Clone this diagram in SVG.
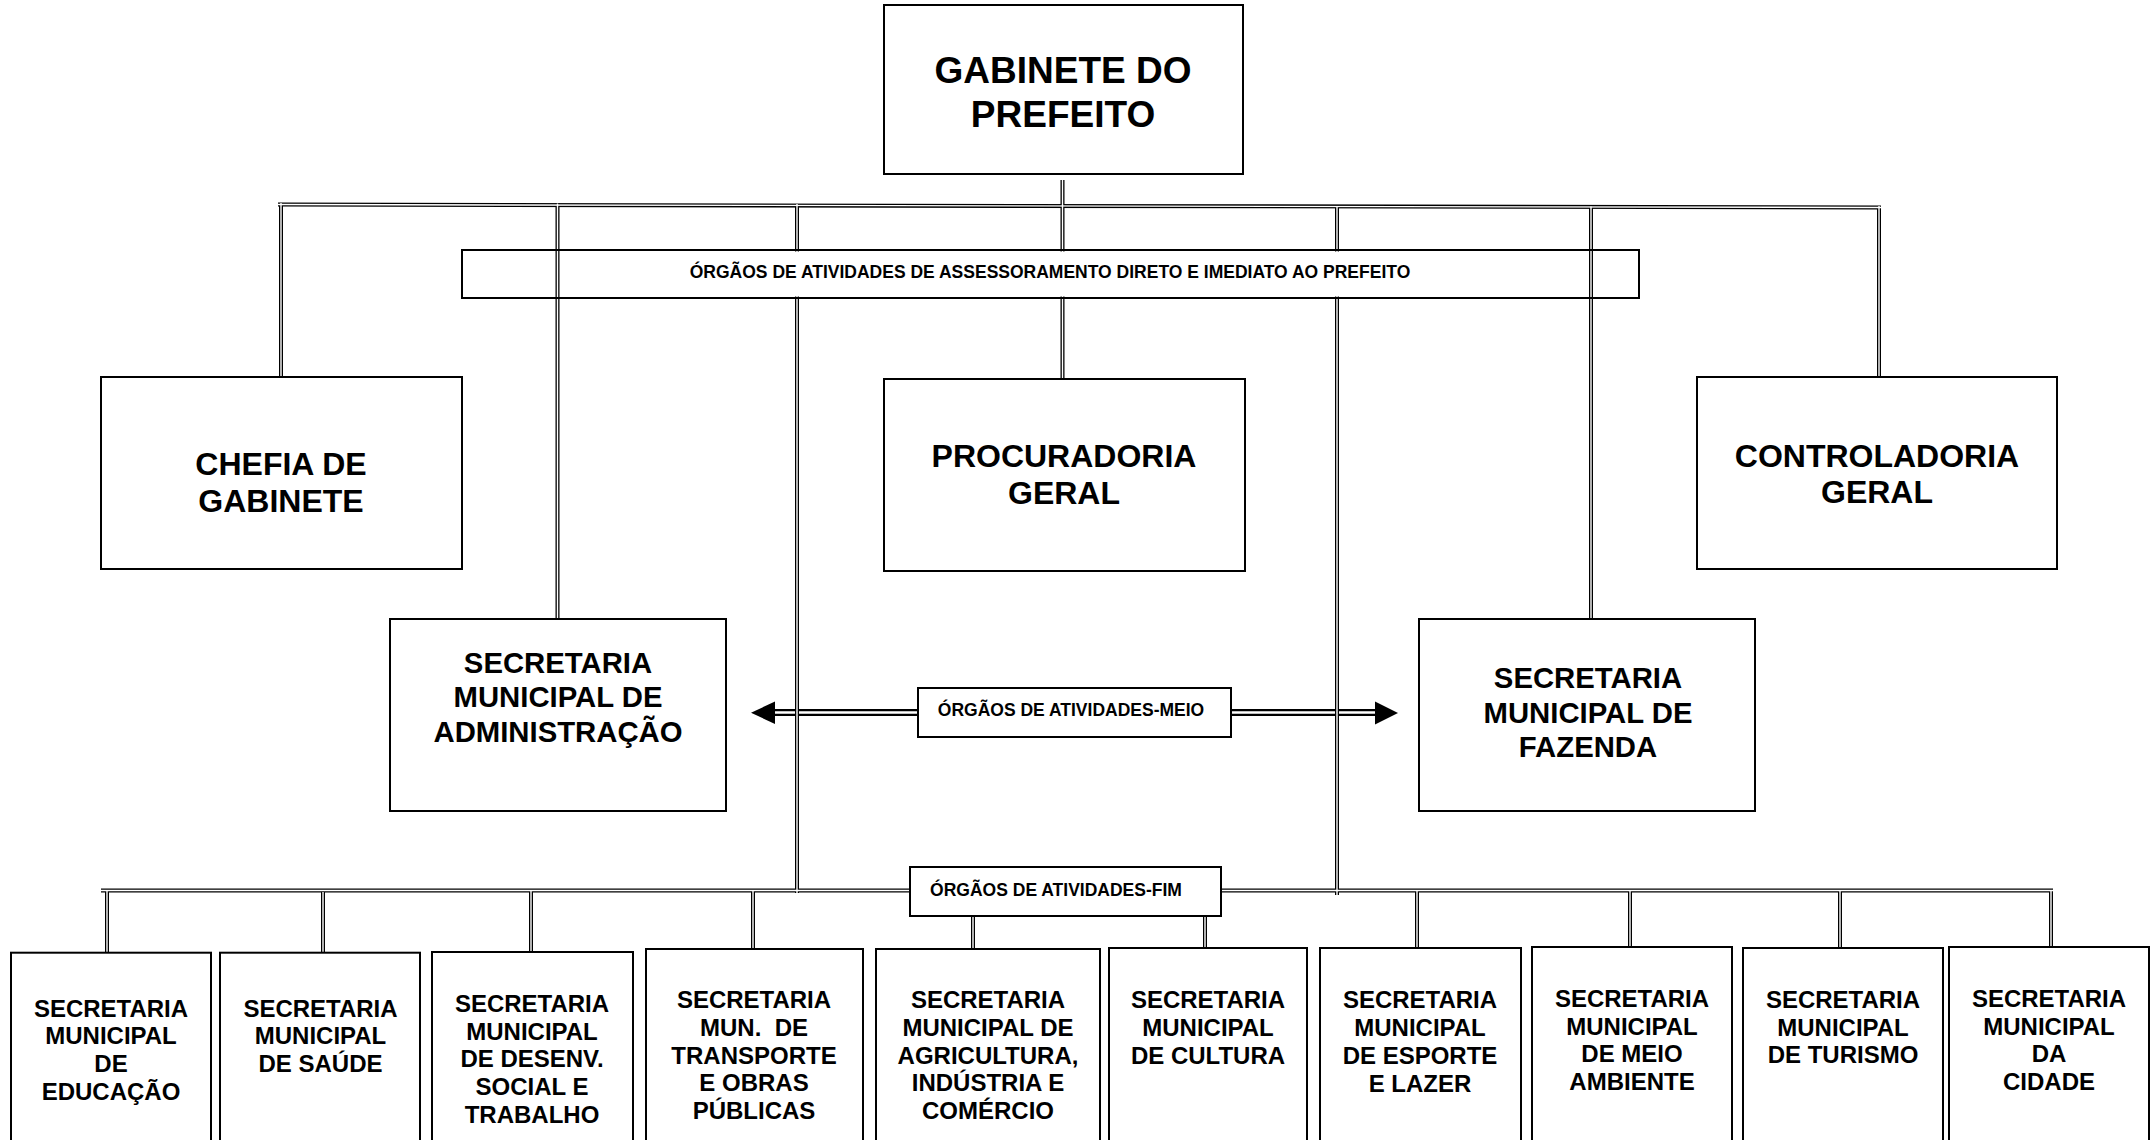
<svg xmlns="http://www.w3.org/2000/svg" xmlns:xlink="http://www.w3.org/1999/xlink" width="2152" height="1140" viewBox="0 0 2152 1140">
<style>
.box{fill:#fff;stroke:#000;stroke-width:2}
.boxn{fill:none;stroke:#000;stroke-width:2}
text{font-family:"Liberation Sans",Arial,sans-serif;font-weight:bold;fill:#000;text-anchor:middle}
.t37{font-size:37px}
.t31{font-size:32px}
.t29{font-size:29.3px}
.t23{font-size:24px}
.t17{font-size:17.5px}
.pre{white-space:pre}
</style>
<defs>
<g id="lines">
<path d="M278 204.5 L1881 207.5"/>
<path d="M281 203 V377"/>
<path d="M557.5 203.5 V619"/>
<path d="M797 204 V893"/>
<path d="M1062.5 180 V379"/>
<path d="M1337 206 V895"/>
<path d="M1591 206.5 V619"/>
<path d="M1879 206 V377"/>
<path d="M101 890.5 H2053"/>
<path d="M107 890 V953"/>
<path d="M323 892 V953"/>
<path d="M531 891 V952"/>
<path d="M753 891 V949"/>
<path d="M973 916 V949"/>
<path d="M1205 916 V948"/>
<path d="M1417 891 V948"/>
<path d="M1630 891 V947"/>
<path d="M1840 891 V948"/>
<path d="M2051 890 V947"/>
</g>
<g id="arr">
<path d="M772 712.5 H918"/>
<path d="M1231 712.5 H1377"/>
</g>
</defs>

<g id="connectors" fill="none">
<use xlink:href="#arr" href="#arr" stroke="#000" stroke-width="7"/>
<use xlink:href="#arr" href="#arr" stroke="#fff" stroke-width="2.4"/>
<polygon points="751,712.7 775,701.5 775,724" fill="#000"/>
<polygon points="1398,713 1375,701.5 1375,724.5" fill="#000"/>
<use xlink:href="#lines" href="#lines" stroke="#000" stroke-width="4"/>
<use xlink:href="#lines" href="#lines" stroke="#fff" stroke-width="1.4"/>
</g>

<g id="gabinete">
<rect class="box" x="884" y="5" width="359" height="169"/>
<text class="t37" x="1063" y="83">GABINETE DO</text>
<text class="t37" x="1063" y="127">PREFEITO</text>
</g>

<g id="assessoramento">
<rect class="boxn" x="462" y="250" width="1177" height="48"/>
<rect x="686" y="251.5" width="728" height="45" fill="#fff"/>
<text class="t17" x="1050" y="278">ÓRGÃOS DE ATIVIDADES DE ASSESSORAMENTO DIRETO E IMEDIATO AO PREFEITO</text>
</g>

<g id="chefia">
<rect class="box" x="101" y="377" width="361" height="192"/>
<text class="t31" x="281" y="475">CHEFIA DE</text>
<text class="t31" x="281" y="512">GABINETE</text>
</g>

<g id="procuradoria">
<rect class="box" x="884" y="379" width="361" height="192"/>
<text class="t31" x="1064" y="467">PROCURADORIA</text>
<text class="t31" x="1064" y="504">GERAL</text>
</g>

<g id="controladoria">
<rect class="box" x="1697" y="377" width="360" height="192"/>
<text class="t31" x="1877" y="467">CONTROLADORIA</text>
<text class="t31" x="1877" y="503">GERAL</text>
</g>

<g id="sec-administracao">
<rect class="box" x="390" y="619" width="336" height="192"/>
<text class="t29" x="558" y="673">SECRETARIA</text>
<text class="t29" x="558" y="707">MUNICIPAL DE</text>
<text class="t29" x="558" y="742">ADMINISTRAÇÃO</text>
</g>

<g id="sec-fazenda">
<rect class="box" x="1419" y="619" width="336" height="192"/>
<text class="t29" x="1588" y="688">SECRETARIA</text>
<text class="t29" x="1588" y="723">MUNICIPAL DE</text>
<text class="t29" x="1588" y="757">FAZENDA</text>
</g>

<g id="orgaos-meio">
<rect class="box" x="918" y="688" width="313" height="49"/>
<text class="t17" x="1071" y="716">ÓRGÃOS DE ATIVIDADES-MEIO</text>
</g>

<g id="orgaos-fim">
<rect class="box" x="910" y="867" width="311" height="49"/>
<text class="t17" x="1056" y="896">ÓRGÃOS DE ATIVIDADES-FIM</text>
</g>

<g id="sec-educacao">
<rect class="box" x="11" y="952.7" width="200" height="200"/>
<text class="t23" x="111" y="1016.7">SECRETARIA</text>
<text class="t23" x="111" y="1044.3">MUNICIPAL</text>
<text class="t23" x="111" y="1072">DE</text>
<text class="t23" x="111" y="1100">EDUCAÇÃO</text>
</g>

<g id="sec-saude">
<rect class="box" x="220" y="952.7" width="200" height="200"/>
<text class="t23" x="320.5" y="1016.7">SECRETARIA</text>
<text class="t23" x="320.5" y="1044.3">MUNICIPAL</text>
<text class="t23" x="320.5" y="1072">DE SAÚDE</text>
</g>

<g id="sec-desenv">
<rect class="box" x="432" y="952" width="201" height="200"/>
<text class="t23" x="532" y="1012">SECRETARIA</text>
<text class="t23" x="532" y="1039.5">MUNICIPAL</text>
<text class="t23" x="532" y="1067">DE DESENV.</text>
<text class="t23" x="532" y="1094.5">SOCIAL E</text>
<text class="t23" x="532" y="1122.5">TRABALHO</text>
</g>

<g id="sec-transporte">
<rect class="box" x="646" y="949" width="217" height="200"/>
<text class="t23" x="754" y="1008">SECRETARIA</text>
<text class="t23 pre" x="754" y="1036">MUN.  DE</text>
<text class="t23" x="754" y="1064">TRANSPORTE</text>
<text class="t23" x="754" y="1091">E OBRAS</text>
<text class="t23" x="754" y="1119">PÚBLICAS</text>
</g>

<g id="sec-agricultura">
<rect class="box" x="876" y="949" width="224" height="200"/>
<text class="t23" x="988" y="1008">SECRETARIA</text>
<text class="t23" x="988" y="1036">MUNICIPAL DE</text>
<text class="t23" x="988" y="1064">AGRICULTURA,</text>
<text class="t23" x="988" y="1091">INDÚSTRIA E</text>
<text class="t23" x="988" y="1119">COMÉRCIO</text>
</g>

<g id="sec-cultura">
<rect class="box" x="1109" y="948" width="198" height="200"/>
<text class="t23" x="1208" y="1008">SECRETARIA</text>
<text class="t23" x="1208" y="1036">MUNICIPAL</text>
<text class="t23" x="1208" y="1064">DE CULTURA</text>
</g>

<g id="sec-esporte">
<rect class="box" x="1320" y="948" width="201" height="200"/>
<text class="t23" x="1420" y="1008">SECRETARIA</text>
<text class="t23" x="1420" y="1036">MUNICIPAL</text>
<text class="t23" x="1420" y="1064">DE ESPORTE</text>
<text class="t23" x="1420" y="1092">E LAZER</text>
</g>

<g id="sec-meio-ambiente">
<rect class="box" x="1532" y="947" width="200" height="200"/>
<text class="t23" x="1632" y="1007">SECRETARIA</text>
<text class="t23" x="1632" y="1034.5">MUNICIPAL</text>
<text class="t23" x="1632" y="1062">DE MEIO</text>
<text class="t23" x="1632" y="1090">AMBIENTE</text>
</g>

<g id="sec-turismo">
<rect class="box" x="1743" y="948" width="200" height="200"/>
<text class="t23" x="1843" y="1008">SECRETARIA</text>
<text class="t23" x="1843" y="1036">MUNICIPAL</text>
<text class="t23" x="1843" y="1063">DE TURISMO</text>
</g>

<g id="sec-cidade">
<rect class="box" x="1949" y="947" width="200" height="200"/>
<text class="t23" x="2049" y="1007">SECRETARIA</text>
<text class="t23" x="2049" y="1034.5">MUNICIPAL</text>
<text class="t23" x="2049" y="1062">DA</text>
<text class="t23" x="2049" y="1090">CIDADE</text>
</g>
</svg>
